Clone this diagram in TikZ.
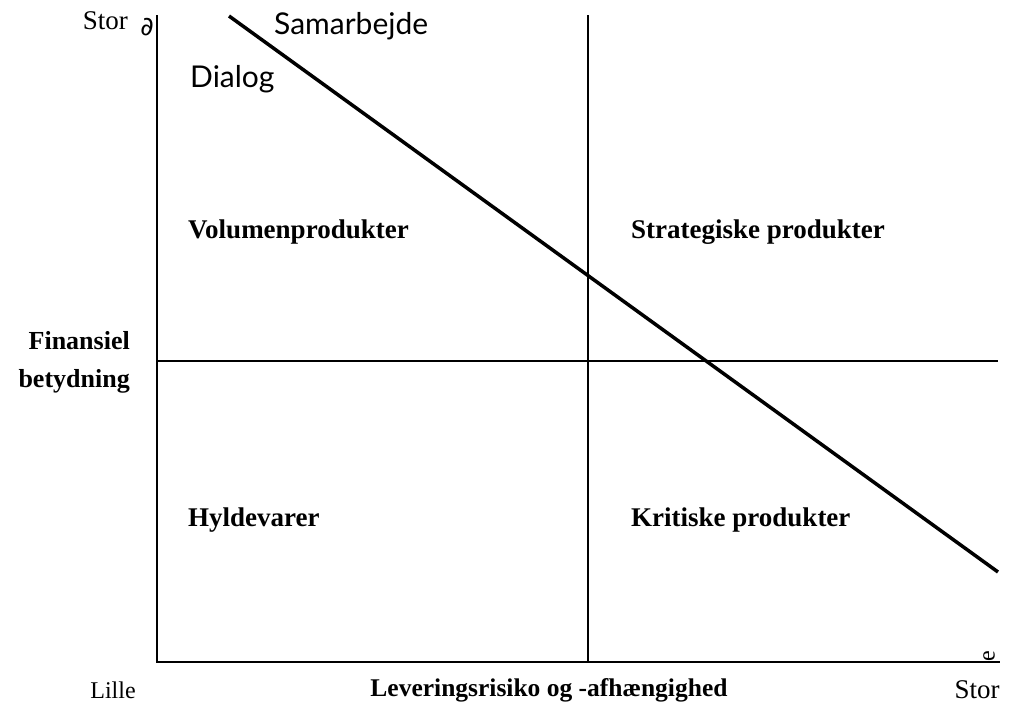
\documentclass[tikz,border=0pt]{standalone}
\usepackage{fontspec}
\setmainfont{Liberation Serif}
\newfontfamily\sansf{Lato}
\newfontfamily\dejavu{DejaVu Sans}
\begin{document}
\begin{tikzpicture}[x=1pt,y=-1pt,
  thin line/.style={line width=1.2pt,black},
  thick line/.style={line width=3.5pt,black},
  quad/.style={font=\fontsize{27}{32}\selectfont\bfseries,anchor=west,inner sep=0pt},
  axlab/.style={font=\fontsize{24}{28}\selectfont,inner sep=0pt},
  storlab/.style={font=\fontsize{27}{30}\selectfont,inner sep=0pt},
  sanslab/.style={font=\sansf\fontsize{30}{34}\selectfont,anchor=west,inner sep=0pt}]
\useasboundingbox (0,0) rectangle (1010,707);
% axes and grid
\coordinate (o) at (157,662);
\coordinate (ytop) at (157,15);
\coordinate (xend) at (1000,662);
\coordinate (mvt) at (588,15);
\coordinate (mvb) at (588,662);
\coordinate (mhl) at (157,361);
\coordinate (mhr) at (998,361);
\draw[thin line] (ytop) -- (o) -- (xend);
\draw[thin line] (mvt) -- (mvb);
\draw[thin line] (mhl) -- (mhr);
% diagonal
\coordinate (d1) at (229,16);
\coordinate (d2) at (998,572);
\draw[thick line] (d1) -- (d2);
% quadrant labels
\node[quad] (vol) at (188,232) {Volumenprodukter};
\node[quad] (str) at (631,232) {Strategiske produkter};
\node[quad] (hyl) at (188,520) {Hyldevarer};
\node[quad] (kri) at (631,520) {Kritiske produkter};
% sans labels
\node[sanslab] (sam) at (274,26) {Samarbejde};
\node[sanslab] (dia) at (190,79) {Dialog};
% axis labels
\node[storlab,anchor=east] (stor1) at (128,21) {Stor};
\node[font=\dejavu\fontsize{26}{28}\selectfont\itshape,inner sep=0pt] (sym1) at (147,27) {∂};
\node[font=\bfseries\fontsize{26}{38}\selectfont,align=right,anchor=east,inner sep=0pt] (fin) at (130,362) {Finansiel\\betydning};
\node[axlab] (lille) at (113,690) {Lille};
\node[font=\bfseries\fontsize{25.5}{30}\selectfont,inner sep=0pt] (lev) at (549,690) {Leveringsrisiko og -afhængighed};
\node[storlab] (stor2) at (977,690) {Stor};
\node[font=\fontsize{24}{26}\selectfont,rotate=90,inner sep=0pt] (sym2) at (989,656) {e};
\end{tikzpicture}
\end{document}
